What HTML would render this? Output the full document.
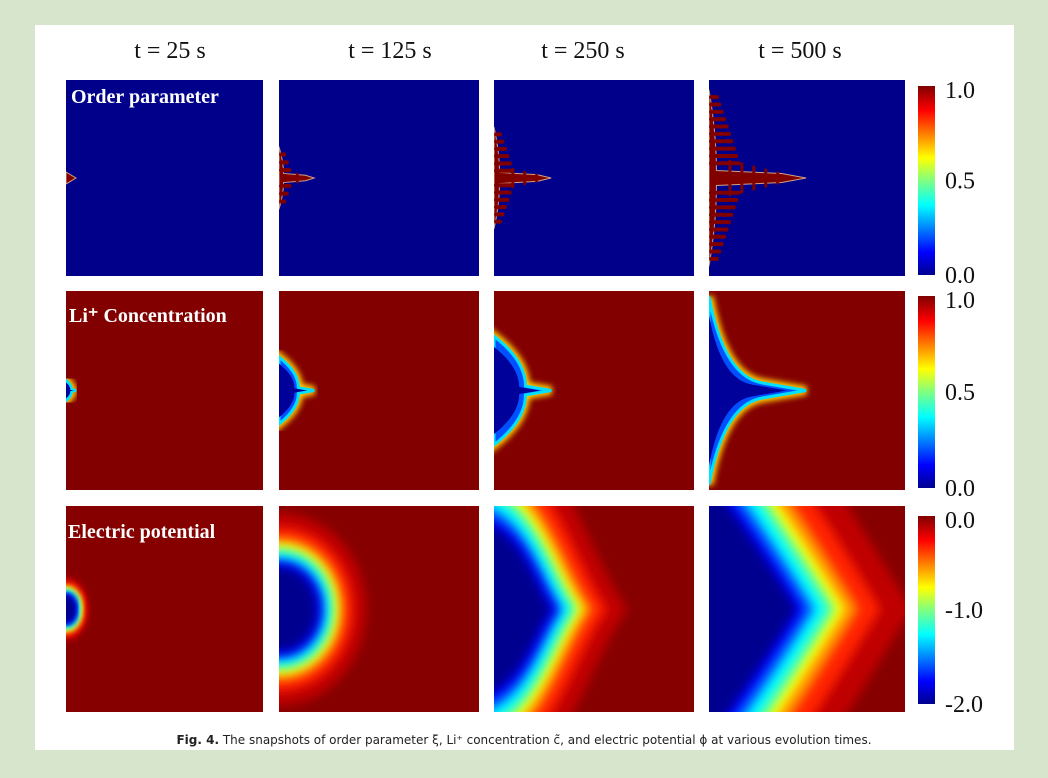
<!DOCTYPE html>
<html><head><meta charset="utf-8"><style>
html,body{margin:0;width:1048px;height:778px;overflow:hidden;background:#d6e5cb;font-family:"Liberation Serif",serif}
svg{display:block;overflow:hidden}
</style></head><body>
<svg id="fig" width="1048" height="778" viewBox="0 0 1048 778">
<defs>
<linearGradient id="jet" x1="0" y1="1" x2="0" y2="0">
<stop offset="0" stop-color="#00008f"/><stop offset="0.12" stop-color="#0000ff"/><stop offset="0.37" stop-color="#00ffff"/><stop offset="0.5" stop-color="#80ff80"/><stop offset="0.62" stop-color="#ffff00"/><stop offset="0.87" stop-color="#ff0000"/><stop offset="1" stop-color="#800000"/>
</linearGradient>
<filter id="blur3"><feGaussianBlur stdDeviation="3"/></filter>
<filter id="blurS"><feGaussianBlur stdDeviation="5"/></filter>
</defs>
<rect x="35" y="25" width="979" height="725" fill="#ffffff"/>
<g id="titles"></g>
<g id="panels"></g>
<g id="bars"></g>
<text x="524" y="744" text-anchor="middle" font-family="'DejaVu Sans',sans-serif" font-size="12" fill="#222"><tspan font-weight="bold">Fig. 4.</tspan> The snapshots of order parameter ξ, Li⁺ concentration c̃, and electric potential ϕ at various evolution times.</text>
</svg>
<script>
const times=["t = 25 s","t = 125 s","t = 250 s","t = 500 s"];
const growth=[0.06,0.16,0.26,0.45];
const rowLabels=["Order parameter","Li⁺ Concentration","Electric potential"];
const barTicks=[["1.0","0.5","0.0"],["1.0","0.5","0.0"],["0.0","-1.0","-2.0"]];
const NS="http://www.w3.org/2000/svg";
function mk(t,a,p){const e=document.createElementNS(NS,t);for(const k in a)e.setAttribute(k,a[k]);(p||document.getElementById('fig')).appendChild(e);return e;}
const cols=[[66,197],[279,200],[494,200],[709,196]];
const rows=[[80,196],[291,199],[506,206]];
const titleX=[170,390,583,800];
const tg=document.getElementById('titles');
times.forEach((t,i)=>{const e=mk('text',{x:titleX[i],y:58,'text-anchor':'middle','font-size':24,fill:'#111'},tg);e.textContent=t;

});
const defs=document.querySelector('defs');
const pg=document.getElementById('panels');
function dendrite(g0,x,y,w,h,g,c){
 const L=g*w*1.1, H=g*h*1.0, tw=Math.max(3,h*0.015+g*10);
 let d=`M${x},${y-H} Q${x+tw},${y-H*0.5} ${x+tw},${y-tw} L${x+L*0.75},${y-tw*0.6} L${x+L},${y} L${x+L*0.75},${y+tw*0.6} L${x+tw},${y+tw} Q${x+tw},${y+H*0.5} ${x},${y+H} Z`;
 mk('path',{d,fill:c,stroke:'#d0a080','stroke-width':1},g0);
 const n=Math.round(g*26);
 for(let k=1;k<n;k++){const s=k/n; if(s<0.12)continue;
  const bl=(1-s)*L*0.3;
  mk('rect',{x:x,y:y-H*s-2,width:bl+tw,height:4,rx:2,fill:c},g0);
  mk('rect',{x:x,y:y+H*s-2,width:bl+tw,height:4,rx:2,fill:c},g0);
  if(k%2===0){const px=x+tw+(L-tw)*s*0.8;const bh=(1-s)*H*0.2;
   mk('rect',{x:px,y:y-bh-tw*0.5,width:3,height:bh*2+tw,rx:1.5,fill:c},g0);}
 }
}
const potColors=['#c00000','#ff2000','#ff9000','#ffff00','#80ff80','#00ffff','#0060ff','#0000ff','#00008f'];
const potScale=[2.3,1.95,1.7,1.55,1.45,1.35,1.2,1.08,1.0];
const potSize=[[10,14],[38,42],[58,62],[88,110]];
rows.forEach((r,ri)=>cols.forEach((c,ci)=>{
 const [x,w]=c,[y,h]=r; const g=growth[ci];
 const cid='clip'+ri+ci; const cp=mk('clipPath',{id:cid},defs); mk('rect',{x,y,width:w,height:h},cp);
 const g0=mk('g',{'clip-path':`url(#${cid})`},pg);
 if(ri===0){
  const b=mk('rect',{x,y,width:w,height:h,fill:'#00008b'},g0);
  
  
  if(ci===0) mk('path',{d:`M${x},${y+h/2-6} L${x+10},${y+h/2} L${x},${y+h/2+6}Z`,fill:'#800000',stroke:'#d0a080'},g0);
  else dendrite(g0,x,y+h/2,w,h,g,'#800000');
 } else if(ri===1){
  const b=mk('rect',{x,y,width:w,height:h,fill:'#820000'},g0);
  
  
  const cy=y+h/2, L=(ci===0?0.05:g*1.1)*w, H=(ci===0?0.05:g*1.05)*h;
  const q=ci===3?0.15:0.55;
  const d=`M${x},${cy-H} Q${x+L*q},${cy-H*q} ${x+L*0.55},${cy-H*0.08} L${x+L},${cy} L${x+L*0.55},${cy+H*0.08} Q${x+L*q},${cy+H*q} ${x},${cy+H}Z`;
  mk('path',{d,fill:'none',stroke:'#ffcc00','stroke-width':9,filter:'url(#blur3)'},g0);
  mk('path',{d,fill:'#0050ff',stroke:'#00e0ff','stroke-width':3},g0);
  mk('path',{d,fill:'#00009a',transform:`translate(${x},${cy}) scale(0.8) translate(${-x},${-cy})`},g0);
 } else {
  const b=mk('rect',{x,y,width:w,height:h,fill:'#860000'},g0);
  
  
  const cy=y+h/2; const [L,H]=potSize[ci];
  potColors.forEach((col,k)=>{const s=potScale[k];const l=L*s,hh=H*s;
   let d;
   if(ci<2) d=`M${x-l},${cy} A${l} ${hh} 0 1 1 ${x-l},${cy+0.1}Z`;
   else if(ci===2) d=`M${x-10},${cy-hh*1.4} C${x+l*0.5},${cy-hh*1.2} ${x+l*0.7},${cy-hh*0.4} ${x+l},${cy} C${x+l*0.7},${cy+hh*0.4} ${x+l*0.5},${cy+hh*1.2} ${x-10},${cy+hh*1.4}Z`;
   else d=`M${x-10},${cy-hh*1.3} Q${x+l*0.55},${cy-hh*0.6} ${x+l},${cy} Q${x+l*0.55},${cy+hh*0.6} ${x-10},${cy+hh*1.3}Z`;
   mk('path',{d,fill:col,filter:ci===0?'url(#blur3)':'url(#blurS)'},g0);});
 }
}));
const lx=[[71,103],[69,322],[68,538]];
rowLabels.forEach((t,i)=>{const e=mk('text',{x:lx[i][0],y:lx[i][1],'font-size':20,'font-weight':'bold',fill:'#fff'},pg);e.textContent=t;

});
const bg=document.getElementById('bars');
const barY=[[86,275],[296,488],[516,704]];
barY.forEach((b,i)=>{const r=mk('rect',{x:918,y:b[0],width:17,height:b[1]-b[0],fill:'url(#jet)'},bg);


barTicks[i].forEach((t,k)=>{const ty=b[0]+(b[1]-b[0])*k/2+8;
 const e=mk('text',{x:945,y:ty+(k===0?4:0),'font-size':24,fill:'#111'},bg);e.textContent=t;
 
 });});
</script>
</body></html>
